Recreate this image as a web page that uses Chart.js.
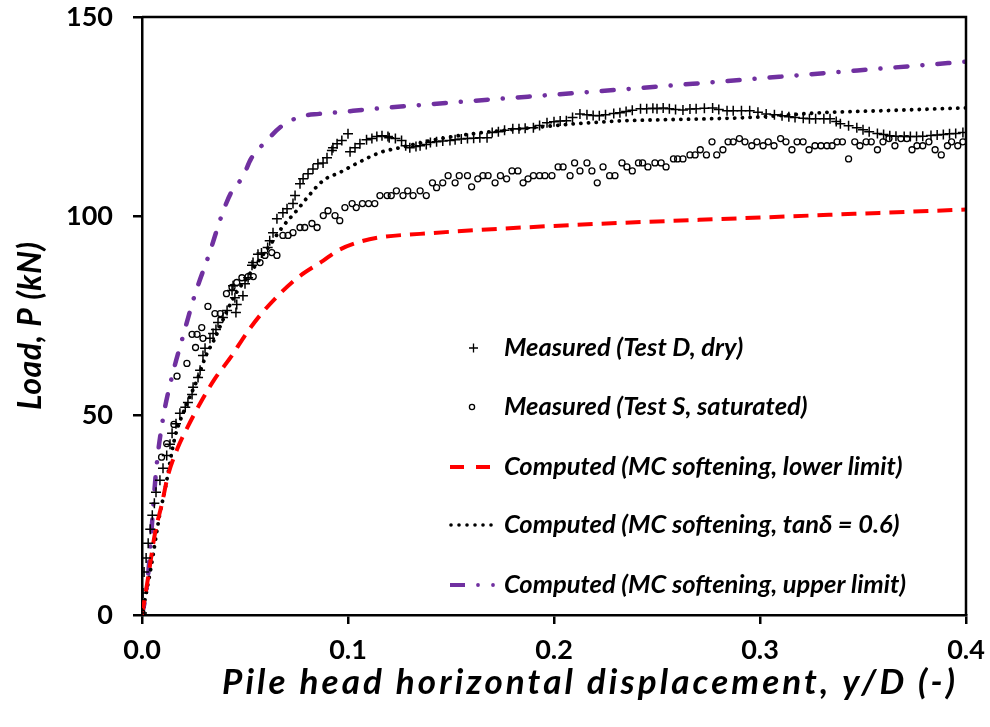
<!DOCTYPE html>
<html>
<head>
<meta charset="utf-8">
<title>Load-displacement</title>
<script src="https://cdn.jsdelivr.net/npm/chart.js@4"></script>
<style>
    html, body { margin: 0; background: #fff; }
    #chart-container { width: 990px; height: 727px; position: relative; }
</style>
</head>
<body>
<div id="chart-container">
    <canvas id="myChart"></canvas>
</div>
<script>
// Measured, Test D (dry)
const dryX = [0, 0.0005, 0.001, 0.002, 0.003, 0.004, 0.005, 0.006, 0.0068, 0.0087, 0.0102, 0.012, 0.0136, 0.0146, 0.0165, 0.0184,
    0.021, 0.0223, 0.0243, 0.0248, 0.0272, 0.0282, 0.0296, 0.0306, 0.033, 0.0345, 0.0359, 0.0369, 0.0393, 0.0413, 0.0456, 0.046,
    0.0451, 0.049, 0.0437, 0.0442, 0.05, 0.0515, 0.0534, 0.0539, 0.0563, 0.058, 0.061, 0.062, 0.0636, 0.0655, 0.0684, 0.0704,
    0.0733, 0.0743, 0.0767, 0.0782, 0.0806, 0.083, 0.0854, 0.0879, 0.0898, 0.0922, 0.0927, 0.0947, 0.097, 0.1,
    0.101, 0.1034, 0.1058, 0.109, 0.1116, 0.114, 0.1165, 0.1194, 0.12, 0.123, 0.126, 0.128, 0.13, 0.133, 0.135, 0.138, 0.14,
    0.143, 0.146, 0.1495, 0.152, 0.155, 0.158, 0.161, 0.164, 0.1675, 0.17, 0.173, 0.176, 0.18, 0.183, 0.186, 0.19, 0.193,
    0.1966, 0.2, 0.203, 0.206, 0.209, 0.2126, 0.216, 0.219, 0.222, 0.225, 0.229, 0.232, 0.235, 0.238, 0.242, 0.245, 0.248,
    0.25, 0.253, 0.256, 0.259, 0.2626, 0.266, 0.269, 0.273, 0.277, 0.28, 0.284, 0.287, 0.291, 0.295, 0.299, 0.303, 0.307,
    0.3107, 0.314, 0.317, 0.321, 0.324, 0.327, 0.331, 0.334, 0.337, 0.339, 0.343, 0.347, 0.35, 0.353, 0.357, 0.36, 0.363,
    0.366, 0.37, 0.373, 0.376, 0.379, 0.383, 0.386, 0.389, 0.392, 0.395, 0.3985];
const dryY = [0.5, 5.5, 10.8, 14.3, 18, 21.5, 25, 28, 30.8, 33.8, 36.8, 40, 42.8, 45.6, 48, 50.6,
    52.1, 53.3, 55.3, 57.1, 59.6, 61.4, 65.1, 66.9, 69.4, 70.6, 71.6, 73.4, 74.6, 76.4, 75.9, 77.9,
    79.6, 80.1, 81.4, 82.6, 83.1, 84.6, 87.7, 88.4, 90.5, 90.8, 92.2, 93.9, 95.9, 99.4, 100.9, 101.9,
    103.2, 105.2, 108.2, 109.4, 110.7, 111.9, 113.2, 113.4, 114.7, 116.5, 117.2, 118.2, 119, 120.7,
    116.2, 117.2, 118.2, 119.2, 119.5, 120, 120.2, 120, 119.7, 119.5, 119, 117.7, 117.2, 117.5, 117.7, 118, 118.5,
    118.7, 118.9, 119, 119.2, 119.4, 119.5, 119.6, 119.7, 119.7, 121, 121.2, 121.6, 122, 122, 122.1, 122.2, 122.8,
    123.5, 123.7, 123.9, 124, 124.8, 125.7, 125.5, 125.3, 125.2, 125.5, 125.8, 126, 126.3, 126.6, 127, 127, 127.1,
    127, 127.2, 127, 126.8, 126.7, 126.9, 127, 127.1, 127.2, 126.8, 126.5, 126.5, 126.5, 126.5, 126.1, 125.7, 125.5,
    125.2, 125, 124.8, 124.6, 124.5, 124.5, 124.5, 124.5, 123.8, 123.2, 122.7, 122.2, 121.7, 121.2, 120.8, 120.5, 120.2,
    120.1, 120, 120, 120, 120.1, 120.3, 120.4, 120.5, 120.7, 120.8, 121];

// Measured, Test S (saturated)
const satX = [0, 0.0095, 0.012, 0.0155, 0.017, 0.0218, 0.0243, 0.026, 0.0267, 0.029, 0.0296, 0.032, 0.0354, 0.038, 0.041,
    0.0437, 0.046, 0.0485, 0.0515, 0.054, 0.0573, 0.0597, 0.063, 0.0655, 0.0684, 0.0709, 0.0733, 0.0767, 0.079, 0.0825,
    0.085, 0.088, 0.0903, 0.0937, 0.096, 0.0985, 0.102, 0.104, 0.107, 0.11, 0.113, 0.1155, 0.119, 0.121, 0.1235, 0.1267,
    0.129, 0.1316, 0.135, 0.138, 0.141, 0.143, 0.146, 0.1486, 0.152, 0.154, 0.158, 0.16, 0.163, 0.1655, 0.168, 0.1714,
    0.174, 0.177, 0.1796, 0.1825, 0.185, 0.1874, 0.19, 0.193, 0.1956, 0.199, 0.202, 0.2044, 0.2078, 0.21, 0.2126, 0.216,
    0.2184, 0.221, 0.2238, 0.227, 0.2296, 0.233, 0.2354, 0.238, 0.241, 0.243, 0.2456, 0.249, 0.252, 0.2544, 0.258, 0.26,
    0.2626, 0.266, 0.2685, 0.271, 0.274, 0.2767, 0.279, 0.282, 0.2845, 0.287, 0.29, 0.2927, 0.296, 0.2985, 0.3015, 0.304,
    0.3068, 0.31, 0.3126, 0.3155, 0.318, 0.3209, 0.3238, 0.3267, 0.3296, 0.3325, 0.335, 0.3374, 0.34, 0.343, 0.346, 0.3485,
    0.3515, 0.354, 0.357, 0.3597, 0.3626, 0.3655, 0.3684, 0.3713, 0.3738, 0.3762, 0.379, 0.382, 0.385, 0.388, 0.391, 0.393,
    0.396, 0.3985];
const satY = [0.5, 39.6, 43, 47.8, 59.9, 63.1, 70.4, 67.1, 70.4, 72.1, 69.4, 77.4, 75.6, 75.6, 80.6,
    82.2, 83.4, 84.6, 84.9, 84.9, 88.4, 90.2, 90.9, 90.2, 95.2, 95.2, 95.9, 97.2, 97.2, 98.2,
    97.2, 100.2, 101.4, 100.2, 98.9, 102.2, 103.2, 102.2, 103.2, 103.2, 103.2, 105.2, 105.2, 105.2, 106.4, 105.2,
    106.4, 105.2, 106.4, 105.2, 108.4, 107.2, 108.4, 110.2, 108.4, 110.2, 110.2, 107.4, 109.4, 110.2, 110.2, 108.4,
    110.2, 109.4, 111.4, 111.4, 108.4, 109.4, 110.2, 110.2, 110.2, 110.2, 112.4, 112.4, 110.2, 113.4, 111.4, 113.4,
    111.4, 108.4, 112.4, 110.2, 110.2, 113.4, 112.4, 111.4, 113.4, 113.4, 112.4, 113.4, 113.4, 112.4, 114.4, 114.4,
    114.4, 115.4, 115.4, 116.7, 115.4, 118.7, 115.4, 116.7, 118.7, 118.7, 119.5, 118.7, 117.7, 118.7, 117.7, 118.7,
    117.7, 119.5, 118.7, 116.7, 118.7, 118.7, 116.7, 117.7, 117.7, 117.7, 117.7, 118.7, 118.7, 114.4, 118.7, 117.7,
    118.7, 118.7, 116.7, 118.7, 119.5, 117.7, 119.5, 119.5, 116.7, 117.7, 117.7, 118.7, 116.7, 115.4, 117.7, 118.7,
    117.7, 118.7];

// Computed, MC softening, lower limit
const lowerX = [0, 0.003, 0.0063, 0.0097, 0.0126, 0.017, 0.022, 0.029, 0.0354, 0.043, 0.051, 0.058, 0.066, 0.075, 0.088,
    0.095, 0.105, 0.115, 0.135, 0.2, 0.3, 0.4];
const lowerY = [0, 9.5, 20.5, 28, 35, 41.5, 47, 53.8, 59.3, 64.6, 70.9, 75.6, 80.1, 84.4, 88.9,
    91.4, 93.5, 94.7, 95.6, 97.6, 99.7, 101.7];

// Computed, MC softening, tan(delta) = 0.6
const midX = [0, 0.0044, 0.0087, 0.011, 0.016, 0.021, 0.027, 0.031, 0.035, 0.041, 0.046, 0.051, 0.056, 0.062, 0.068,
    0.076, 0.081, 0.088, 0.096, 0.104, 0.1155, 0.125, 0.145, 0.165, 0.185, 0.21, 0.235, 0.25, 0.295, 0.33, 0.36, 0.4];
const midY = [0, 12, 25.5, 31, 44.6, 52, 59.3, 65, 69, 76, 81, 84.6, 88.4, 92.7, 97.2,
    102, 105.2, 109, 111, 113.2, 116, 117.2, 119.5, 121, 122, 123.2, 124, 124.2, 124.8, 126, 126.5, 127.2];

// Computed, MC softening, upper limit
const upperX = [0, 0.0024, 0.007, 0.0102, 0.0146, 0.02, 0.0257, 0.0325, 0.039, 0.043, 0.049, 0.053, 0.06, 0.068, 0.077,
    0.086, 0.0976, 0.107, 0.118, 0.242, 0.4];
const upperY = [0, 7, 37, 49.3, 59.9, 70.1, 80.4, 90.4, 100.7, 105.7, 110, 114.5, 118.7, 122.7, 125,
    125.7, 126.2, 126.7, 127.2, 132.2, 138.8];

const xTicks = [0, 0.1, 0.2, 0.3, 0.4];
const yTicks = [0, 50, 100, 150];

const legendLabels = [
    'Measured (Test D, dry)',
    'Measured (Test S, saturated)',
    'Computed (MC softening, lower limit)',
    'Computed (MC softening, tan\u03b4 = 0.6)',
    'Computed (MC softening, upper limit)'
];
const xTitle = 'Pile head horizontal displacement, y/D (-)';
const yTitle = 'Load, P (kN)';

const FONT = 'Lato, "Liberation Sans", sans-serif';

function pairs(xs, ys) {
    return xs.map((x, i) => ({ x: x, y: ys[i] }));
}

// pick a font size so that the text spans the given width
function fitFont(ctx, text, width, style) {
    ctx.font = style + ' 20px ' + FONT;
    const size = 20 * width / ctx.measureText(text).width;
    return style + ' ' + size.toFixed(1) + 'px ' + FONT;
}

// draw text at a fixed size, spreading the letters to fill the width
function spreadText(ctx, text, x, y, width, font) {
    ctx.font = font;
    ctx.letterSpacing = '0px';
    const w0 = ctx.measureText(text).width;
    ctx.letterSpacing = ((width - w0) / (text.length - 1)).toFixed(2) + 'px';
    ctx.fillText(text, x, y);
    ctx.letterSpacing = '0px';
}

// frame, legend and axis titles drawn on top of the library's scales
const decorations = {
    id: 'decorations',
    afterDraw(chart) {
        const ctx = chart.ctx;
        const a = chart.chartArea;
        ctx.save();

        // top and right side of the plot frame
        ctx.strokeStyle = '#000';
        ctx.lineWidth = 2.5;
        ctx.beginPath();
        ctx.moveTo(a.left, a.top);
        ctx.lineTo(a.right, a.top);
        ctx.lineTo(a.right, a.bottom);
        ctx.stroke();

        // legend
        const rows = [348, 407, 467, 525, 585];
        const textX = 504;
        ctx.fillStyle = '#000';
        ctx.font = fitFont(ctx, legendLabels[2], 399, 'italic bold');
        ctx.textBaseline = 'middle';
        ctx.textAlign = 'left';
        legendLabels.forEach((label, i) => ctx.fillText(label, textX, rows[i]));

        ctx.lineCap = 'butt';
        // cross
        ctx.lineWidth = 1.3;
        ctx.beginPath();
        ctx.moveTo(469, rows[0]); ctx.lineTo(478, rows[0]);
        ctx.moveTo(473.5, rows[0] - 4.5); ctx.lineTo(473.5, rows[0] + 4.5);
        ctx.stroke();
        // circle
        ctx.beginPath();
        ctx.arc(472, rows[1], 2.6, 0, Math.PI * 2);
        ctx.stroke();
        // dashed red
        ctx.strokeStyle = '#ff0000';
        ctx.lineWidth = 4;
        ctx.beginPath();
        ctx.moveTo(450, rows[2]); ctx.lineTo(464, rows[2]);
        ctx.moveTo(476, rows[2]); ctx.lineTo(490, rows[2]);
        ctx.stroke();
        // dotted black
        ctx.fillStyle = '#000';
        for (let k = 0; k < 6; k++) {
            ctx.beginPath();
            ctx.arc(451 + k * 8, rows[3], 1.8, 0, Math.PI * 2);
            ctx.fill();
        }
        // dash-dot purple
        ctx.strokeStyle = '#7030a0';
        ctx.fillStyle = '#7030a0';
        ctx.lineWidth = 4;
        ctx.beginPath();
        ctx.moveTo(450, rows[4]); ctx.lineTo(465, rows[4]);
        ctx.stroke();
        [478, 493].forEach(px => {
            ctx.beginPath();
            ctx.arc(px, rows[4], 1.9, 0, Math.PI * 2);
            ctx.fill();
        });

        // axis titles
        ctx.fillStyle = '#000';
        ctx.textBaseline = 'alphabetic';
        ctx.textAlign = 'left';
        spreadText(ctx, xTitle, 222, 694, 733, 'italic bold 35px ' + FONT);
        ctx.translate(41, 410);
        ctx.rotate(-Math.PI / 2);
        spreadText(ctx, yTitle, 0, 0, 168, 'italic bold 32px ' + FONT);
        ctx.restore();
    }
};

const axisCommon = {
    type: 'linear',
    border: { display: true, color: '#000', width: 2.5 },
    grid: { display: true, drawOnChartArea: false, drawTicks: true, tickLength: 9, color: '#000', lineWidth: 2.5 },
};

const ctx = document.getElementById('myChart').getContext('2d');
new Chart(ctx, {
    type: 'scatter',
    data: {
        datasets: [
            {
                label: legendLabels[0],
                data: pairs(dryX, dryY),
                pointStyle: 'cross',
                pointRadius: 5,
                borderWidth: 1.5,
                borderColor: '#000',
                backgroundColor: '#000',
                showLine: false,
            },
            {
                label: legendLabels[1],
                data: pairs(satX, satY),
                pointStyle: 'circle',
                pointRadius: 3,
                borderWidth: 1.3,
                borderColor: '#000',
                backgroundColor: 'rgba(0,0,0,0)',
                showLine: false,
            },
            {
                label: legendLabels[2],
                data: pairs(lowerX, lowerY),
                showLine: true,
                pointRadius: 0,
                borderColor: '#ff0000',
                borderWidth: 4,
                borderDash: [15, 9],
                cubicInterpolationMode: 'monotone',
                fill: false,
            },
            {
                label: legendLabels[3],
                data: pairs(midX, midY),
                showLine: true,
                pointRadius: 0,
                borderColor: '#000',
                borderWidth: 3.8,
                borderDash: [0.1, 7.6],
                borderCapStyle: 'round',
                cubicInterpolationMode: 'monotone',
                fill: false,
            },
            {
                label: legendLabels[4],
                data: pairs(upperX, upperY),
                showLine: true,
                pointRadius: 0,
                borderColor: '#7030a0',
                borderWidth: 4.5,
                borderDash: [12, 15, 0.1, 15],
                borderCapStyle: 'round',
                cubicInterpolationMode: 'monotone',
                fill: false,
            },
        ],
    },
    options: {
        responsive: true,
        maintainAspectRatio: false,
        animation: false,
        layout: { padding: { top: 17, right: 24, left: 0, bottom: 0 } },
        plugins: {
            legend: { display: false },
            tooltip: { enabled: false },
        },
        scales: {
            x: {
                ...axisCommon,
                position: 'bottom',
                min: 0,
                max: 0.4,
                afterBuildTicks: (scale) => { scale.ticks = xTicks.map(v => ({ value: v })); },
                afterFit: (scale) => {
                    scale.height = 112;
                    scale.paddingLeft = 0;
                    scale.paddingRight = 0;
                },
                ticks: {
                    color: '#000',
                    padding: 10,
                    maxRotation: 0,
                    font: { family: FONT, size: 27, weight: 'bold' },
                    callback: (v) => Number(v).toFixed(1),
                },
            },
            y: {
                ...axisCommon,
                position: 'left',
                min: 0,
                max: 150,
                afterBuildTicks: (scale) => { scale.ticks = yTicks.map(v => ({ value: v })); },
                afterFit: (scale) => {
                    scale.width = 142;
                    scale.paddingTop = 0;
                    scale.paddingBottom = 0;
                },
                ticks: {
                    color: '#000',
                    padding: 20,
                    font: { family: FONT, size: 27, weight: 'bold' },
                },
            },
        },
    },
    plugins: [decorations],
});
</script>
</body>
</html>
